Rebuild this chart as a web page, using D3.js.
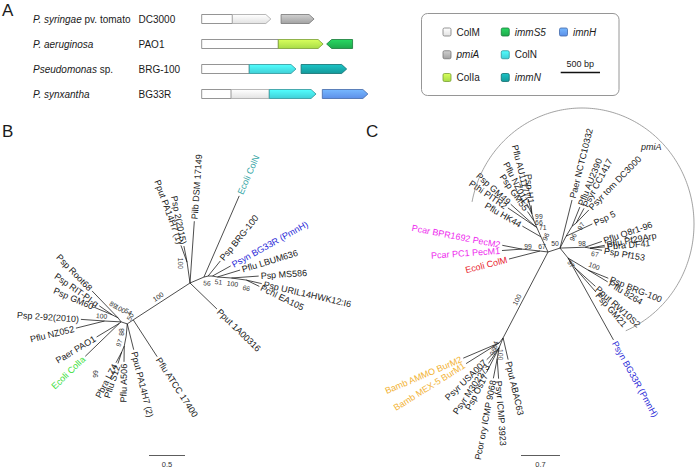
<!DOCTYPE html>
<html><head><meta charset="utf-8">
<script src="https://cdn.jsdelivr.net/npm/d3@7"></script>
<style>
body{margin:0;background:#fff}
svg{display:block}
text{font-family:"Liberation Sans",Arial,Helvetica,sans-serif;fill:#1a1a1a}
</style>
</head><body>
<svg id="fig" width="696" height="467"></svg>
<script>
// ---------------- DATA ----------------
// Panel A: gene neighbourhoods
const speciesItalic = ["P. syringae", "P. aeruginosa", "Pseudomonas", "P. synxantha"];
const speciesSuffix = [" pv. tomato", "", " sp.", ""];
const strains = ["DC3000", "PAO1", "BRG-100", "BG33R"];
// [row, start bp, end bp, strand]
const genes = [[0,0,880,1],[0,1010,1430,1],[1,0,1545,1],[1,1590,1920,-1],
               [2,0,1200,1],[2,1265,1845,1],[3,0,1455,1],[3,1535,2115,1]];
// [row, start bp, end bp, domain type]
const domains = [[0,0,390,"other"],[0,390,880,"ColM"],[0,1010,1430,"pmiA"],
                 [1,0,975,"other"],[1,975,1545,"ColIa"],[1,1590,1920,"immS5"],
                 [2,0,605,"other"],[2,605,1200,"ColN"],[2,1265,1845,"immN"],
                 [3,0,375,"other"],[3,375,860,"ColM"],[3,860,1455,"ColN"],[3,1535,2115,"imnH"]];
const legendTypes = ["ColM","pmiA","ColIa","immS5","ColN","immN","imnH"];
const italicTypes = ["pmiA","immS5","immN","imnH"];
const scaleBarBp = 500;

// Panel B tree: [id, parent, branch length, bootstrap]
const treeBNodes = [
 ["O",null,0,null],
 ["U","O",0.29,100],["Pput PA14H7 (1)","U",0.25,null],["Psp 2(2015)","U",0.23,null],
 ["Pilb DSM 17149","O",0.86,null],
 ["R1","O",0.21,56],["Ecoli ColN","R1",1.23,null],
 ["RB","R1",0.06,null],["Psp BRG-100","RB",0.27,null],
 ["RC","RB",0.06,null],["Psyn BG33R (PmnH)","RC",0.29,null],
 ["R2","RC",0.07,51],["Pflu LBUM636","R2",0.33,null],
 ["R3","R2",0.195,100],["Psp MS586","R3",0.38,null],
 ["R4","R3",0.21,66],["Psp URIL14HWK12:I6","R4",0.22,null],["Pchl EA105","R4",0.2,null],
 ["Pput 1A00316","O",0.52,null],
 ["L","O",0.94,100],["Pflu ATCC 17400","L",0.61,null],
 ["L2","L",0.1,50],["Pput PA14H7 (2)","L2",0.37,null],
 ["L3","L2",0.17,88],["L4","L3",0.14,97],["Pflu A506","L4",0.22,null],
 ["L5","L4",0.09,99],["Pbra LZ4","L5",0.17,null],["Pflu S12","L5",0.17,null],
 ["L6","L2",0.09,54],["L7","L6",0.03,null],
 ["Ecoli ColIa","L7",0.66,null],["Paer PAO1","L7",0.37,null],
 ["L8","L6",0.23,100],["Psp 2-92(2010)","L8",0.33,null],["Pflu NZ052","L8",0.41,null],
 ["L9","L6",0.07,100],["Psp Root68","L9",0.52,null],
 ["L10","L9",0.09,89],["Psp RIT-PI-g","L10",0.22,null],["Psp GM60","L10",0.26,null]
];
const treeBScale = 0.5;

// Panel C tree
const treeCNodes = [
 ["O",null,0,null],
 ["C1","O",0.145,67],["Ecoli ColM","C1",0.575,null],
 ["C2","C1",0.325,99],["Pcar BPR1692 PecM2","C2",0.36,null],["Pcar PC1 PecM1","C2",0.36,null],
 ["D","O",1.74,100],
 ["D1","D",0.115,84],["Bamb AMMO BurM2","D1",0.70,null],["Bamb MEX-5 BurM1","D1",0.70,null],
 ["D2","D",0.19,96],["Psyr USA007","D2",0.31,null],["Psyr M302273","D2",0.34,null],
 ["Psp Os17","D2",0.5,null],
 ["D3","D2",0.2,100],["Pcor ory ICMP 9068","D3",0.36,null],["Psyr ICMP 3923","D3",0.36,null],
 ["Pput ABAC63","D",0.4,null],
 ["C3","O",0.3,96],["Pflu HK44","C3",0.385,null],
 ["C4","C3",0.18,71],["C45","C4",0.03,null],
 ["Psp GM49","C45",0.6,null],["Pthi PITR2","C45",0.6,null],
 ["C5","C4",0.137,66],["Psp GM55","C5",0.2,null],
 ["C6","C5",0.13,99],["Pflu NZ011","C6",0.2,null],["Pflu AU11177","C6",0.27,null],["Psp H1","C6",0.15,null],
 ["C8","O",0.227,50],["Paer NCTC10332","C8",0.89,null],
 ["C9","C8",0.24,96],["Psp 5","C9",0.52,null],
 ["C12","C9",0.21,97],["Pflu AU2390","C12",0.37,null],
 ["C13","C12",0.09,null],["Psyr CC1417","C13",0.3,null],["Psyr tom DC3000","C13",0.33,null],
 ["C10","C8",0.45,98],["Pflu Q8r1-96","C10",0.32,null],
 ["C14","C10",0.09,67],["Pflu Pf29Arp","C14",0.27,null],["Pbra DF41","C14",0.27,null],["Psp Pf153","C14",0.22,null],
 ["C11","C8",0.23,97],["Psyn BG33R (PmnH)","C11",1.68,null],
 ["C15","C11",0.42,100],["Psp BRG-100","C15",0.39,null],["Pflu 8264","C15",0.41,null],
 ["C16","C11",0.22,null],["Pput RW10S2","C16",0.49,null],["Psp GM21","C16",0.57,null]
];
const treeCScale = 0.7;
const cladeLabel = "pmiA";

// ---------------- LAYOUT / STYLE ----------------
const typeColors = {other:"#ffffff", ColM:"#e2e2e2", pmiA:"#a2a2a2", ColIa:"#a8dc48",
  immS5:"#1fa84c", ColN:"#40cfd6", immN:"#15999a", imnH:"#5c8fe8"};
const labelColors = {"Ecoli ColN":"#2fa3a3","Psyn BG33R (PmnH)":"#2a2ad8","Ecoli ColIa":"#3fe03f",
  "Ecoli ColM":"#e8202a","Pcar BPR1692 PecM2":"#ee2cee","Pcar PC1 PecM1":"#ee2cee",
  "Bamb AMMO BurM2":"#f2b234","Bamb MEX-5 BurM1":"#f2b234"};
// unrooted layout directions (degrees, screen coords)
const anglesB = {U:-98,"Pput PA14H7 (1)":-110,"Psp 2(2015)":-101,"Pilb DSM 17149":-86,
 R1:-23,"Ecoli ColN":-66.5,RB:-14,"Psp BRG-100":-51,RC:0,"Psyn BG33R (PmnH)":-29,R2:11,
 "Pflu LBUM636":-17,R3:4,"Psp MS586":-4,R4:8,"Psp URIL14HWK12:I6":13,"Pchl EA105":26,
 "Pput 1A00316":44,L:147,"Pflu ATCC 17400":57,L2:146,"Pput PA14H7 (2)":76,L3:95,L4:101,
 "Pflu A506":91,L5:113,"Pbra LZ4":118,"Pflu S12":108,L6:198,L7:140,"Ecoli ColIa":136,
 "Paer PAO1":149,L8:183,"Psp 2-92(2010)":184,"Pflu NZ052":166,L9:233,"Psp Root68":226,
 L10:207,"Psp RIT-PI-g":215,"Psp GM60":203};
const bsB = {U:[-7,1,90],R1:[3,6,5],R2:[1,5,5],R3:[1,6,8],R4:[0,8,12],L:[25,-23,-33],
 L2:[3,-7,-60],L3:[-5,-4,-90],L4:[-5,-3,-70],L5:[-26,22,-90],L6:[7,-10,30],L9:[2,-9,30],
 L10:[1,-10,30],L8:[-3,-5,5]};
const anglesC = {C1:187,"Ecoli ColM":165.5,C2:186,"Pcar BPR1692 PecM2":191,"Pcar PC1 PecM1":176,
 D:117.6,D1:128,"Bamb AMMO BurM2":157,"Bamb MEX-5 BurM1":148,D2:112,"Psyr USA007":136,
 "Psyr M302273":124,"Psp Os17":117,D3:100,"Pcor ory ICMP 9068":101,"Psyr ICMP 3923":86,
 "Pput ABAC63":77,C3:-115,"Pflu HK44":-150,C4:-114,C45:-140,"Psp GM49":-138,"Pthi PITR2":-146,
 C5:-113,"Psp GM55":-125,C6:-106,"Pflu NZ011":-117,"Pflu AU11177":-104,"Psp H1":-95,
 C8:-18,"Paer NCTC10332":-76,C9:-63,"Psp 5":-25,C12:-59,"Pflu AU2390":-68,C13:-37,
 "Psyr CC1417":-62,"Psyr tom DC3000":-46,C10:-2,"Pflu Q8r1-96":-19,C14:11,"Pflu Pf29Arp":-11,
 "Pbra DF41":-5,"Psp Pf153":10,C11:51,"Psyn BG33R (PmnH)":61,C15:31,"Psp BRG-100":22,
 "Pflu 8264":31,C16:55,"Pput RW10S2":42,"Psp GM21":49};
const bsC = {C1:[2,-4,0],C2:[6,-3,0],D:[14,-38,-62],D1:[-4,2,-75],D2:[-6,4,-70],D3:[3,-4,90],
 C3:[5,0,-65],C4:[6,0,0],C5:[5,2,0],C6:[7,3,0],C8:[-5,-4,0],C9:[7,1,-62],C12:[9,0,-60],
 C10:[-3,-4,0],C14:[5,6,10],C11:[3,6,57],C15:[6,-4,22]};

const svg = d3.select("#fig");
const defs = svg.append("defs");

// ---------------- PANEL A ----------------
svg.append("text").attr("x",2).attr("y",15.5).attr("font-size",17).text("A");
Object.entries(typeColors).forEach(([k,c])=>{
  const lg = defs.append("linearGradient").attr("id","gr-"+k).attr("x1",0).attr("y1",0).attr("x2",0).attr("y2",1);
  lg.append("stop").attr("offset","0%").attr("stop-color",d3.color(c).brighter(k==="other"?0:0.7).formatHex());
  lg.append("stop").attr("offset","100%").attr("stop-color",c);
});
const strokeOf = t => t==="other" ? "#7a7a7a" : d3.color(typeColors[t]).darker(0.9).formatHex();

const gx = d3.scaleLinear().domain([0, 2115]).range([201.7, 367.9]);
const gy = d3.scalePoint().domain(d3.range(strains.length)).range([19, 94]);
const gA = svg.append("g");
strains.forEach((s,i)=>{
  const t = gA.append("text").attr("x",33).attr("y",gy(i)+3.6).attr("font-size",10).style("white-space","pre");
  t.append("tspan").attr("font-style","italic").text(speciesItalic[i]);
  if (speciesSuffix[i]) t.append("tspan").text(speciesSuffix[i]);
  gA.append("text").attr("x",138.5).attr("y",gy(i)+3.6).attr("font-size",10).text(s);
});
const GH = 9, TIP = 5;
genes.forEach(([row,s,e,strand])=>{
  const doms = domains.filter(d=>d[0]===row && d[1]>=s && d[2]<=e);
  doms.forEach(([r,ds,de,type])=>{
    const x0=gx(ds), x1=gx(de), ym=gy(row), y0=ym-GH/2, y1=ym+GH/2;
    let pts;
    if (strand>0 && de===e) pts=[[x0,y0],[x1-TIP,y0],[x1,ym],[x1-TIP,y1],[x0,y1]];
    else if (strand<0 && ds===s) pts=[[x0,ym],[x0+TIP,y0],[x1,y0],[x1,y1],[x0+TIP,y1]];
    else pts=[[x0,y0],[x1,y0],[x1,y1],[x0,y1]];
    gA.append("path").attr("d","M"+pts.map(p=>p.join(",")).join("L")+"Z")
      .attr("fill","url(#gr-"+type+")").attr("stroke",strokeOf(type)).attr("stroke-width",0.8);
  });
});

// legend
const lgG = svg.append("g");
lgG.append("rect").attr("x",421.5).attr("y",13.5).attr("width",197.5).attr("height",82)
  .attr("rx",6).attr("fill","#fff").attr("stroke","#8a8a8a").attr("stroke-width",0.9);
const lgCol = d3.scalePoint().domain([0,1,2]).range([443,559.5]);
const lgRow = d3.scalePoint().domain([0,1,2]).range([32,77.5]);
legendTypes.forEach((t,i)=>{
  const c = Math.floor(i/3), r = i%3;
  lgG.append("rect").attr("x",lgCol(c)).attr("y",lgRow(r)-4).attr("width",8).attr("height",8).attr("rx",1.5)
    .attr("fill","url(#gr-"+t+")").attr("stroke",strokeOf(t==="ColM"?"other":t)).attr("stroke-width",0.8);
  lgG.append("text").attr("x",lgCol(c)+13.5).attr("y",lgRow(r)+3.6).attr("font-size",10)
    .attr("font-style",italicTypes.includes(t)?"italic":null).text(t);
});
const bpLen = gx(scaleBarBp)-gx(0);
lgG.append("line").attr("x1",560.7).attr("x2",560.7+bpLen).attr("y1",72.5).attr("y2",72.5)
  .attr("stroke","#111").attr("stroke-width",1.3);
lgG.append("text").attr("x",560.7+bpLen/2).attr("y",66.5).attr("text-anchor","middle").attr("font-size",9).text(scaleBarBp+" bp");

// ---------------- TREES ----------------
function drawTree(nodes, angles, bsPos, scale, origin) {
  const g = svg.append("g");
  const pos = {};
  const parents = new Set(nodes.map(n=>n[1]));
  nodes.forEach(([id,par,len])=>{
    if (par===null) { pos[id] = {x:origin[0], y:origin[1]}; return; }
    const a = angles[id]*Math.PI/180, p = pos[par], L = scale(len);
    pos[id] = {x:p.x+L*Math.cos(a), y:p.y+L*Math.sin(a), px:p.x, py:p.y};
  });
  nodes.filter(n=>n[1]!==null).forEach(([id])=>{
    const p = pos[id];
    g.append("line").attr("x1",p.px).attr("y1",p.py).attr("x2",p.x).attr("y2",p.y)
      .attr("stroke","#111").attr("stroke-width",0.75);
  });
  nodes.filter(n=>n[1]!==null && !parents.has(n[0])).forEach(([id])=>{
    const a = angles[id], r = a*Math.PI/180, p = pos[id];
    const flip = Math.cos(r) < -1e-6;
    g.append("text").attr("transform",`translate(${p.x+2*Math.cos(r)},${p.y+2*Math.sin(r)}) rotate(${flip?a+180:a})`)
      .attr("text-anchor",flip?"end":"start").attr("dy","0.35em").attr("font-size",9)
      .style("fill",labelColors[id]||"#1a1a1a").text(id);
  });
  nodes.filter(n=>n[3]!==null).forEach(([id,,,bs])=>{
    const o = bsPos[id] || [0,-4,0], p = pos[id];
    g.append("text").attr("transform",`translate(${p.x+o[0]},${p.y+o[1]}) rotate(${o[2]})`)
      .attr("text-anchor","middle").attr("dy","0.35em").attr("font-size",6.8).style("fill","#333").text(bs);
  });
  return {g,pos};
}
function scaleBar(g, scale, val, x, y) {
  g.append("line").attr("x1",x).attr("x2",x+scale(val)).attr("y1",y).attr("y2",y).attr("stroke","#333").attr("stroke-width",0.8);
  g.append("text").attr("x",x+scale(val)/2).attr("y",y+11).attr("text-anchor","middle").attr("font-size",7.5).style("fill","#333").text(val);
}

svg.append("text").attr("x",2).attr("y",137).attr("font-size",17).text("B");
const sB = d3.scaleLinear().domain([0,1]).range([0,72]);
const tB = drawTree(treeBNodes, anglesB, bsB, sB, [190,283]);
scaleBar(tB.g, sB, treeBScale, 149, 455.5);

svg.append("text").attr("x",366).attr("y",137).attr("font-size",17).text("C");
const sC = d3.scaleLinear().domain([0,1]).range([0,55.7]);
const tC = drawTree(treeCNodes, anglesC, bsC, sC, [548,252]);
scaleBar(tC.g, sC, treeCScale, 521, 455.5);

// pmiA clade arc (elliptical arc around the clade)
const ell = {cx:582, cy:224, a:112, b:116};
const arcPts = d3.range(191, 427.5, 1).map(t=>{
  const r=t*Math.PI/180;
  return [ell.cx+ell.a*Math.cos(r), ell.cy+ell.b*Math.sin(r)];
});
tC.g.append("path").attr("d",d3.line()(arcPts)).attr("fill","none").attr("stroke","#8a8a8a").attr("stroke-width",0.8);
tC.g.append("text").attr("x",641).attr("y",150).attr("font-size",9).attr("font-style","italic").text(cladeLabel);
</script>
</body></html>
